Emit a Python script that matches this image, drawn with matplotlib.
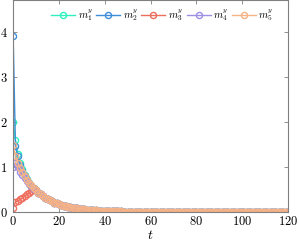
import matplotlib
matplotlib.use("Agg")
import matplotlib.pyplot as plt
import numpy as np

plt.rcParams['font.family'] = 'cmr10'
plt.rcParams['mathtext.fontset'] = 'cm'
plt.rcParams['axes.formatter.use_mathtext'] = True

t = np.arange(0, 121)

# shared tail once all the curves have merged (t = 10 .. 120)
tail = [0.48, 0.43, 0.39, 0.35, 0.32, 0.29, 0.26, 0.24, 0.21, 0.19,
        0.18, 0.16, 0.14, 0.13, 0.12, 0.11, 0.10, 0.087, 0.079, 0.072,
        0.065, 0.058, 0.053, 0.048, 0.043, 0.039, 0.036, 0.032, 0.029, 0.026,
        0.024, 0.021, 0.019, 0.018, 0.016, 0.014, 0.013, 0.012, 0.011, 0.010,
        0.009, 0.008, 0.007, 0.007, 0.006, 0.006, 0.005, 0.005, 0.004, 0.004,
        0.003, 0.003, 0.003, 0.003, 0.002, 0.002, 0.002, 0.002, 0.002, 0.001,
        0.001, 0.001, 0.001, 0.001, 0.001, 0.001, 0.001, 0.001, 0.0, 0.0,
        0.0, 0.0, 0.0, 0.0, 0.0, 0.0, 0.0, 0.0, 0.0, 0.0,
        0.0, 0.0, 0.0, 0.0, 0.0, 0.0, 0.0, 0.0, 0.0, 0.0,
        0.0, 0.0, 0.0, 0.0, 0.0, 0.0, 0.0, 0.0, 0.0, 0.0,
        0.0, 0.0, 0.0, 0.0, 0.0, 0.0, 0.0, 0.0, 0.0, 0.0,
        0.0]

m1 = [2.0, 1.6, 1.3, 1.1, 0.95, 0.83, 0.73, 0.65, 0.58, 0.53] + tail
m2 = [3.9, 1.47, 1.25, 1.05, 0.91, 0.8, 0.71, 0.64, 0.58, 0.53] + tail
m3 = [0.1, 0.22, 0.25, 0.28, 0.31, 0.35, 0.39, 0.43, 0.46, 0.48] + tail
m4 = [1.0, 1.1, 1.0, 0.9, 0.82, 0.75, 0.68, 0.62, 0.57, 0.52] + tail
m5 = [1.5, 1.25, 1.1, 0.98, 0.88, 0.8, 0.72, 0.65, 0.59, 0.53] + tail

series = [m1, m2, m3, m4, m5]
labels = ["$m_1^y$", "$m_2^y$", "$m_3^y$", "$m_4^y$", "$m_5^y$"]
colors = ["#30f0c0", "#3d8ed8", "#ee6e5e", "#9b8fe6", "#f6b386"]

fig = plt.figure(figsize=(2.99, 2.44), dpi=100)
ax = fig.add_axes([0.044, 0.131, 0.919, 0.869])

for y, lab, c in zip(series, labels, colors):
    ax.plot(t, y, color=c, lw=1.0, marker='o', ms=4.4, mfc='none', mew=1.0, label=lab)

ax.set_xlim(0, 120)
ax.set_ylim(0, 4.71)
ax.set_xticks([0, 20, 40, 60, 80, 100, 120])
ax.set_yticks([0, 1, 2, 3, 4])
ax.tick_params(direction='in', top=True, right=True, labelsize=9, length=3,
               width=0.6, color='#808080')
ax.tick_params(axis='y', pad=4)
ax.tick_params(axis='x', pad=2)
for s in ax.spines.values():
    s.set_color('#808080')
    s.set_linewidth(0.8)
ax.set_xlabel("$t$", fontsize=10, labelpad=1)

ax.legend(loc='upper right', ncol=5, frameon=False, fontsize=7.5,
          handlelength=2.3, columnspacing=0.3, handletextpad=0.25,
          borderaxespad=0.3, bbox_to_anchor=(0.975, 1.0))

fig.savefig("out.png", dpi=100)
